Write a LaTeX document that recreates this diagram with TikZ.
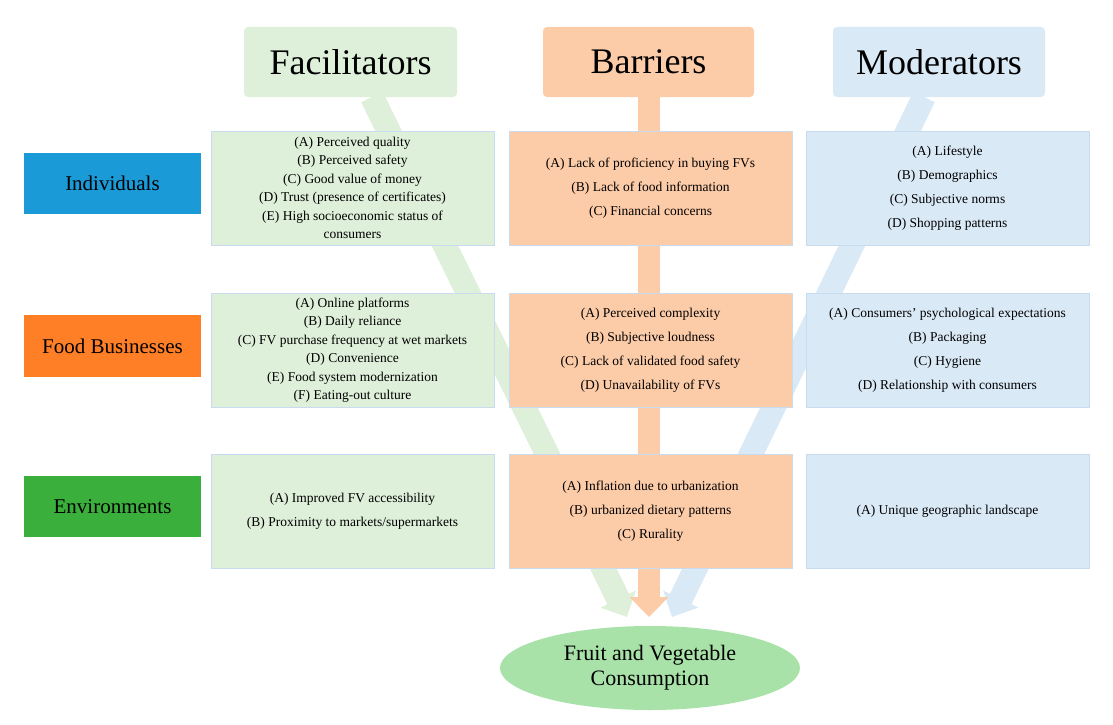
\documentclass[tikz,border=0pt]{standalone}
\usepackage{fontspec}
\setmainfont{Liberation Serif}
\usetikzlibrary{arrows.meta}
\definecolor{lg}{HTML}{DEEFDA}
\definecolor{lo}{HTML}{FCCBA8}
\definecolor{lb}{HTML}{DAE9F6}
\definecolor{bd}{HTML}{C9DCEF}
\definecolor{cI}{HTML}{1A9AD6}
\definecolor{cF}{HTML}{FF7F27}
\definecolor{cE}{HTML}{3BAF3B}
\definecolor{ell}{HTML}{A8E2A8}
\begin{document}
\begin{tikzpicture}[x=1pt,y=-1pt,
 hdr/.style={rounded corners=4pt,font=\fontsize{36}{40}\selectfont,inner sep=0pt},
 cell/.style={draw=bd,line width=0.8pt,align=center,inner sep=0pt},
 sm/.style={font=\fontsize{13.5}{18.5}\selectfont},
 wide/.style={font=\fontsize{13.5}{24}\selectfont},
 lab/.style={font=\fontsize{21}{24}\selectfont,inner sep=0pt},
 fat/.style={line width=24pt,-{Triangle[width=38pt,length=20pt]}}]
\useasboundingbox (0,0) rectangle (1113,725);
% arrows
\coordinate (gs) at (372,97); \coordinate (ge) at (627,617);
\coordinate (os) at (649,97); \coordinate (oe) at (649,617);
\coordinate (bs) at (924,97); \coordinate (be) at (672,617);
\draw[fat,lg] (gs) -- (ge);
\draw[fat,lb] (bs) -- (be);
\draw[fat,line width=22pt,lo] (os) -- (oe);
% headers
\fill[lg,rounded corners=4pt] (244,27) rectangle (457,97);
\node[hdr] (hf) at (350.5,62) {Facilitators};
\fill[lo,rounded corners=4pt] (543,27) rectangle (754,97);
\node[hdr] (hb) at (648.5,62) {Barriers};
\fill[lb,rounded corners=4pt] (833,27) rectangle (1045,97);
\node[hdr] (hm) at (939,62) {Moderators};
% row labels
\node[lab,fill=cI,minimum width=177pt,minimum height=61pt] (rI) at (112.5,183.5) {Individuals};
\node[lab,fill=cF,minimum width=177pt,minimum height=62pt] (rF) at (112.5,346) {Food Businesses};
\node[lab,fill=cE,minimum width=177pt,minimum height=61pt] (rE) at (112.5,506.5) {Environments};
% cells
\foreach \x/\c/\n in {211/lg/g,509/lo/o,806/lb/b}{
 \foreach \y/\r in {131/1,293/2,454/3}{
  \draw[bd,fill=\c,line width=0.8pt] (\x,\y) rectangle ++(283,114);
 }}
\node[sm,align=center] (g1) at (352.5,188) {(A) Perceived quality\\(B) Perceived safety\\(C) Good value of money\\(D) Trust (presence of certificates)\\(E) High socioeconomic status of\\consumers};
\node[sm,align=center] (g2) at (352.5,350) {(A) Online platforms\\(B) Daily reliance\\(C) FV purchase frequency at wet markets\\(D) Convenience\\(E) Food system modernization\\(F) Eating-out culture};
\node[wide,align=center] (g3) at (352.5,511) {(A) Improved FV accessibility\\(B) Proximity to markets/supermarkets};
\node[wide,align=center] (o1) at (650.5,188) {(A) Lack of proficiency in buying FVs\\(B) Lack of food information\\(C) Financial concerns};
\node[wide,align=center] (o2) at (650.5,350) {(A) Perceived complexity\\(B) Subjective loudness\\(C) Lack of validated food safety\\(D) Unavailability of FVs};
\node[wide,align=center] (o3) at (650.5,511) {(A) Inflation due to urbanization\\(B) urbanized dietary patterns\\(C) Rurality};
\node[wide,align=center] (b1) at (947.5,188) {(A) Lifestyle\\(B) Demographics\\(C) Subjective norms\\(D) Shopping patterns};
\node[wide,align=center] (b2) at (947.5,350) {(A) Consumers’ psychological expectations\\(B) Packaging\\(C) Hygiene\\(D) Relationship with consumers};
\node[wide,align=center] (b3) at (947.5,511) {(A) Unique geographic landscape};
% ellipse
\fill[ell] (650,668) ellipse [x radius=150, y radius=42];
\node[font=\fontsize{22}{25}\selectfont,align=center] (fv) at (650,668) {Fruit and Vegetable\\Consumption};
\end{tikzpicture}
\end{document}
